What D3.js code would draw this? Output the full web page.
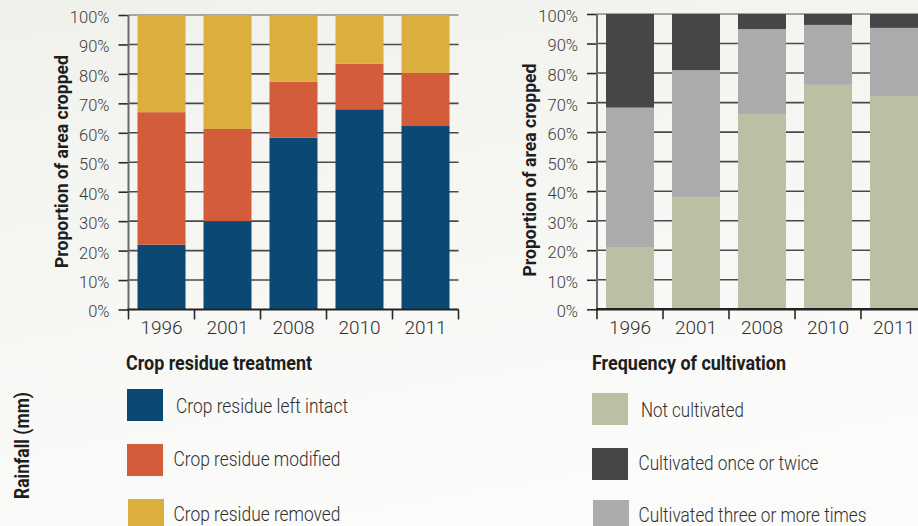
<!DOCTYPE html>
<html><head><meta charset="utf-8">
<script src="https://cdn.jsdelivr.net/npm/d3@7"></script>
<style>
html,body{margin:0;padding:0;overflow:hidden;}
svg{display:block;}
</style></head>
<body>
<svg id="c" width="918" height="526"></svg>
<script>
const years = ["1996","2001","2008","2010","2011"];
const yTicks = [0,10,20,30,40,50,60,70,80,90,100];

// Left chart: crop residue treatment (% of area cropped)
const residueIntact   = [22.0, 30.0, 58.3, 68.0, 62.3];
const residueModified = [45.0, 31.3, 19.0, 15.5, 18.0];
const residueRemoved  = [33.0, 38.7, 22.7, 16.5, 19.7];
const residueNames = ["Crop residue left intact","Crop residue modified","Crop residue removed"];

// Right chart: frequency of cultivation (% of area cropped)
const notCultivated   = [21.1, 38.0, 66.1, 76.0, 72.2];
const cultThreePlus   = [47.2, 43.0, 28.8, 20.3, 23.1];
const cultOnceTwice   = [31.7, 19.0,  5.1,  3.7,  4.7];
const cultNames = ["Not cultivated","Cultivated once or twice","Cultivated three or more times"];

const svg = d3.select("#c");
const defs = svg.append("defs");
const grad = defs.append("linearGradient").attr("id","bg").attr("x1",0).attr("y1",0).attr("x2",0.3).attr("y2",1);
grad.append("stop").attr("offset","0%").attr("stop-color","#f1f1ec");
grad.append("stop").attr("offset","100%").attr("stop-color","#fbfbfa");
svg.append("rect").attr("width",918).attr("height",526).attr("fill","url(#bg)");

const tickFont = "Roboto, 'Liberation Sans', sans-serif";
const legFont = "Roboto, 'Liberation Sans', sans-serif";

function fitText(sel, w){
  sel.attr("textLength", w).attr("lengthAdjust","spacingAndGlyphs");
}

function drawChart(cfg){
  const g = svg.append("g");
  const x = d3.scaleBand().domain(years).range([cfg.x0, cfg.x0 + 66*years.length]).paddingInner(0.2727).paddingOuter(0.13635);
  const y = d3.scaleLinear().domain([0,100]).range([cfg.y0, cfg.y1]);
  const step = x.step();

  // gridlines
  g.append("g").selectAll("line").data(yTicks.filter(d=>d>0)).join("line")
    .attr("x1", cfg.x0).attr("x2", cfg.x0 + step*years.length)
    .attr("y1", d=>y(d)).attr("y2", d=>y(d))
    .attr("stroke", d=> d===100 ? "#8a8a8a" : "#4a4a4a").attr("stroke-width", 1.6);

  // stacked bars
  const rows = years.map((yr,i)=>{
    const o = {year: yr};
    cfg.keys.forEach((k,j)=> o[k] = cfg.series[j][i]);
    return o;
  });
  const stack = d3.stack().keys(cfg.keys)(rows);
  g.append("g").selectAll("g").data(stack).join("g")
    .attr("fill", (d,i)=>cfg.colors[i])
    .selectAll("rect").data(d=>d).join("rect")
    .attr("x", d=>x(d.data.year)).attr("width", x.bandwidth())
    .attr("y", d=>y(Math.min(100,d[1]))).attr("height", d=>y(d[0]) - y(Math.min(100,d[1])));

  // y axis
  const yAxis = d3.axisLeft(y).tickValues(yTicks).tickFormat(d=>d+"%").tickSize(10).tickPadding(9);
  const ya = g.append("g").attr("transform",`translate(${cfg.x0},0)`).call(yAxis);
  ya.select(".domain").remove();
  ya.selectAll(".tick line").attr("stroke","#2a2a2a").attr("stroke-width",1.6);
  ya.selectAll(".tick text").attr("font-family",tickFont).attr("font-weight",300)
    .attr("font-size",16.5).attr("fill","#3a3a3a").attr("dy","0.45em");
  g.append("line").attr("x1",cfg.x0).attr("x2",cfg.x0).attr("y1",cfg.y1).attr("y2",cfg.y0)
    .attr("stroke","#6a6a6a").attr("stroke-width",2);

  // x axis
  const xAxis = d3.axisBottom(x).tickSize(0).tickPadding(11);
  const xa = g.append("g").attr("transform",`translate(0,${cfg.y0})`).call(xAxis);
  xa.select(".domain").remove();
  xa.selectAll(".tick text").attr("font-family",tickFont).attr("font-weight",300)
    .attr("font-size",19).attr("fill","#2e2e2e").attr("dy","0.72em");
  // band boundary ticks
  g.append("g").selectAll("line").data(d3.range(years.length+1)).join("line")
    .attr("x1", i=>cfg.x0 + i*step).attr("x2", i=>cfg.x0 + i*step)
    .attr("y1", cfg.y0).attr("y2", cfg.y0 + 10)
    .attr("stroke","#2a2a2a").attr("stroke-width",1.6);
  g.append("line").attr("x1",cfg.x0 - 1).attr("x2",cfg.x0 + step*years.length)
    .attr("y1",cfg.y0).attr("y2",cfg.y0).attr("stroke","#222").attr("stroke-width",cfg.baseW);

  // y title
  g.append("text").attr("transform",`translate(${cfg.titleX},${cfg.titleY}) rotate(-90)`)
    .attr("text-anchor","middle").attr("font-family","Roboto, sans-serif").attr("font-weight",700)
    .attr("font-size",17.5).attr("fill","#1e1e1e").text("Proportion of area cropped")
    .call(fitText, 213);

  // legend
  const lg = svg.append("g");
  lg.append("text").attr("x",cfg.legX).attr("y",370).attr("font-family",legFont).attr("font-weight",700)
    .attr("font-size",19.5).attr("fill","#1e1e1e").text(cfg.legTitle).call(fitText, cfg.legTitleW);
  cfg.legItems.forEach((it,i)=>{
    lg.append("rect").attr("x",it.sx).attr("y",it.sy).attr("width",36).attr("height",32).attr("fill",it.color);
    lg.append("text").attr("x",it.tx).attr("y",it.ty).attr("font-family",legFont).attr("font-weight",300)
      .attr("font-size",21).attr("fill","#2e2e2e").text(it.name).call(fitText, it.w);
  });
}

const leftColors = ["#0b4872","#d35d3a","#dcae3e"];
drawChart({
  x0:128.5, y0:309.5, y1:15, baseW:2,
  keys:["intact","modified","removed"],
  series:[residueIntact,residueModified,residueRemoved],
  colors:leftColors,
  titleX:68, titleY:161.5,
  legX:126, legTitle:"Crop residue treatment", legTitleW:186,
  legItems:[
    {sx:127, sy:389, tx:176, ty:412.5, w:172, color:leftColors[0], name:residueNames[0]},
    {sx:127, sy:444, tx:173.5, ty:465.5, w:167, color:leftColors[1], name:residueNames[1]},
    {sx:128, sy:499, tx:173.5, ty:520.5, w:167, color:leftColors[2], name:residueNames[2]}
  ]
});

const rightColors = ["#bbbfa4","#aaabad","#464648"];
drawChart({
  x0:597, y0:309.3, y1:14, baseW:2.6,
  keys:["not","three","once"],
  series:[notCultivated,cultThreePlus,cultOnceTwice],
  colors:rightColors,
  titleX:536, titleY:170,
  legX:592, legTitle:"Frequency of cultivation", legTitleW:194,
  legItems:[
    {sx:592, sy:393, tx:641, ty:416.5, w:103, color:rightColors[0], name:cultNames[0]},
    {sx:592, sy:448, tx:638.5, ty:469.5, w:180, color:rightColors[2], name:cultNames[1]},
    {sx:593, sy:500, tx:638.5, ty:522, w:228, color:rightColors[1], name:cultNames[2]}
  ]
});

// Rainfall label
svg.append("text").attr("transform","translate(29,445.5) rotate(-90)")
  .attr("text-anchor","middle").attr("font-family",legFont).attr("font-weight",700)
  .attr("font-size",20.5).attr("fill","#1e1e1e").text("Rainfall (mm)").call(fitText, 107);
</script>
</body></html>
